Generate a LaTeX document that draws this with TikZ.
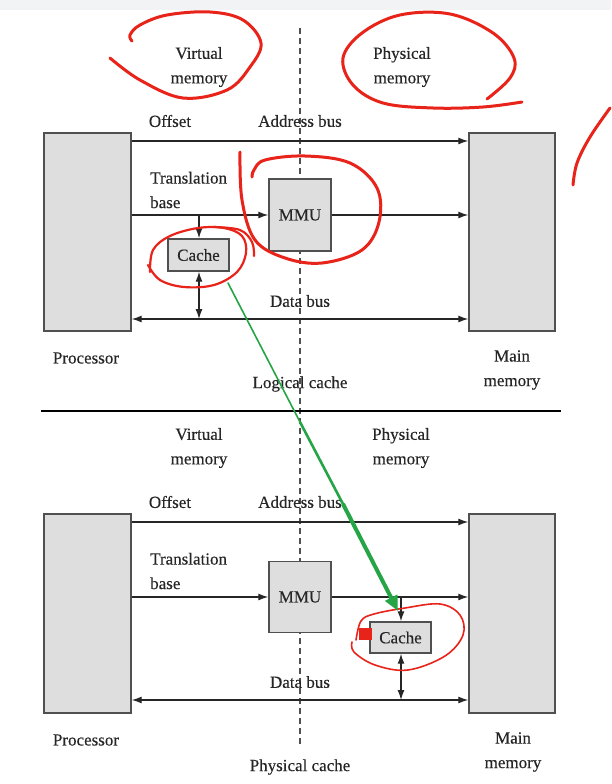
\documentclass[tikz,border=0pt]{standalone}
\usepackage{fontspec}
\setmainfont{Liberation Serif}
\newfontfamily\figfont{Liberation Serif}[FakeBold=0.3]
\usetikzlibrary{arrows.meta}
\definecolor{ink}{HTML}{262626}
\definecolor{boxfill}{HTML}{DEDEDE}
\definecolor{boxline}{HTML}{505050}
\definecolor{pen}{HTML}{E8231A}
\definecolor{gpen}{HTML}{25A545}
\definecolor{strip}{HTML}{F1F3F5}
\tikzset{
  blk/.style={draw=boxline, fill=boxfill, line width=1.4pt, inner sep=0pt},
  lbl/.style={text=ink, font=\figfont\fontsize{17}{24.5}\selectfont, inner sep=0pt, align=center},
  wire/.style={draw=ink, line width=1.3pt},
  arr/.style={wire, -{Latex[length=10pt,width=7pt]}},
  darr/.style={wire, {Latex[length=10pt,width=7pt]}-{Latex[length=10pt,width=7pt]}},
  redink/.style={draw=pen, line width=3pt, line cap=round, line join=round},
}
\begin{document}
\begin{tikzpicture}[x=1pt,y=-1pt]
\useasboundingbox (0,0) rectangle (611,784);
\fill[white] (0,0) rectangle (611,784);
\fill[strip] (0,0) rectangle (611,10);

% divider lines
\coordinate (dtop) at (300,28);
\coordinate (dbot) at (300,745);
\draw[draw=boxline, line width=1.3pt, dash pattern=on 6pt off 4pt] (dtop) -- (dbot);
\coordinate (sepL) at (41,411);
\coordinate (sepR) at (561,411);
\draw[black, line width=2.6pt] (sepL) -- (sepR);

% ================= top: logical cache =================
\node[blk, minimum width=87pt, minimum height=198pt] (proc1) at (87.5,232) {};
\node[blk, minimum width=86pt, minimum height=198pt] (mem1) at (512,232) {};
\node[blk, minimum width=62pt, minimum height=72pt, lbl] (mmu1) at (300,215) {MMU};
\node[blk, minimum width=61pt, minimum height=32pt, lbl] (cache1) at (198.5,255) {Cache};

\coordinate (off1) at (0,141);
\coordinate (dbus1) at (0,319);
\coordinate (br1) at (199,215);

\draw[arr] (proc1.east |- off1) -- (mem1.west |- off1);
\draw[arr] (proc1.east |- mmu1.west) -- (mmu1.west);
\draw[arr] (mmu1.east) -- (mmu1.east -| mem1.west);
\draw[arr] (br1) -- (br1 |- cache1.north);
\draw[darr] (br1 |- cache1.south) -- (br1 |- dbus1);
\draw[darr] (proc1.east |- dbus1) -- (mem1.west |- dbus1);

\node[lbl] (vm1) at (199,67) {Virtual\\memory};
\node[lbl] (pm1) at (402,67) {Physical\\memory};
\node[lbl] (offt1) at (170,121) {Offset};
\node[lbl] (abus1) at (300,121) {Address bus};
\node[lbl, align=left, anchor=west] (tb1) at (150,190) {Translation\\base};
\node[lbl] (dbt1) at (300,301) {Data bus};
\node[lbl] (proct1) at (86,358) {Processor};
\node[lbl] (memt1) at (512,370) {Main\\memory};
\node[lbl] (lc) at (300,384) {Logical cache};

% ================= bottom: physical cache =================
\node[blk, minimum width=87pt, minimum height=199pt] (proc2) at (87.5,613.5) {};
\node[blk, minimum width=86pt, minimum height=199pt] (mem2) at (512,613.5) {};
\node[blk, minimum width=62pt, minimum height=71pt, lbl] (mmu2) at (300,597) {MMU};
\node[blk, minimum width=61pt, minimum height=31pt, lbl] (cache2) at (400.5,637.5) {Cache};

\coordinate (off2) at (0,522);
\coordinate (dbus2) at (0,700);
\coordinate (br2) at (401,597);

\draw[arr] (proc2.east |- off2) -- (mem2.west |- off2);
\draw[arr] (proc2.east |- mmu2.west) -- (mmu2.west);
\draw[arr] (mmu2.east) -- (mmu2.east -| mem2.west);
\draw[arr] (br2) -- (br2 |- cache2.north);
\draw[darr] (br2 |- cache2.south) -- (br2 |- dbus2);
\draw[darr] (proc2.east |- dbus2) -- (mem2.west |- dbus2);

\node[lbl] (vm2) at (199,448) {Virtual\\memory};
\node[lbl] (pm2) at (401,448) {Physical\\memory};
\node[lbl] (offt2) at (170,502) {Offset};
\node[lbl] (abus2) at (300,502) {Address bus};
\node[lbl, align=left, anchor=west] (tb2) at (150,571) {Translation\\base};
\node[lbl] (dbt2) at (300,682) {Data bus};
\node[lbl] (proct2) at (86,740) {Processor};
\node[lbl] (memt2) at (513,752) {Main\\memory};
\node[lbl] (pc) at (300,767) {Physical cache};

% ================= hand annotations =================
\draw[redink] plot[smooth, tension=0.6] coordinates {(110,58) (140,80) (183,98) (227,90) (250,67) (261,43) (243,20) (210,12) (167,15) (140,25) (130,35) (132,41)};
\draw[redink] plot[smooth, tension=0.6] coordinates {(487,99) (510,78) (514,58) (493,33) (450,14) (400,15) (362,33) (343,58) (353,85) (383,103) (433,108) (483,107) (522,102)};
\draw[redink] plot[smooth, tension=0.6] coordinates {(573,185) (577,163) (590,137) (610,108)};
\draw[redink] plot[smooth, tension=0.6] coordinates {(240,152) (242,200) (255,240) (285,258) (322,263) (362,250) (379,222) (377,188) (350,163) (305,156) (265,160) (254,170) (252,177)};
\draw[redink, line width=2.2pt] plot[smooth, tension=0.6] coordinates {(150,272) (153,250) (170,236) (198,228) (224,228) (242,236) (246,253) (237,272) (214,285) (184,287) (160,280) (148,265)};
\draw[redink, line width=2.2pt] plot[smooth, tension=0.6] coordinates {(214,227) (240,230) (252,242) (254,256)};
\draw[redink, line width=1.6pt] plot[smooth, tension=0.6] coordinates {(356,640) (361,621) (374,614) (405,608) (440,604) (460,615) (463,635) (445,656) (408,670) (375,665) (354,652) (352,642)};
\fill[pen] (359,628) rectangle (372,640);

\coordinate (gA) at (228,283);
\coordinate (gB) at (300,422);
\coordinate (gC) at (343,504);
\coordinate (gD) at (398,611);
\draw[gpen, line width=1.6pt, line cap=round] (gA) -- (gB);
\draw[gpen, line width=2.6pt, line cap=round] (gB) -- (gC);
\draw[gpen, line width=4pt, -{Triangle[length=15pt,width=13pt]}] (gC) -- (gD);
\end{tikzpicture}
\end{document}
